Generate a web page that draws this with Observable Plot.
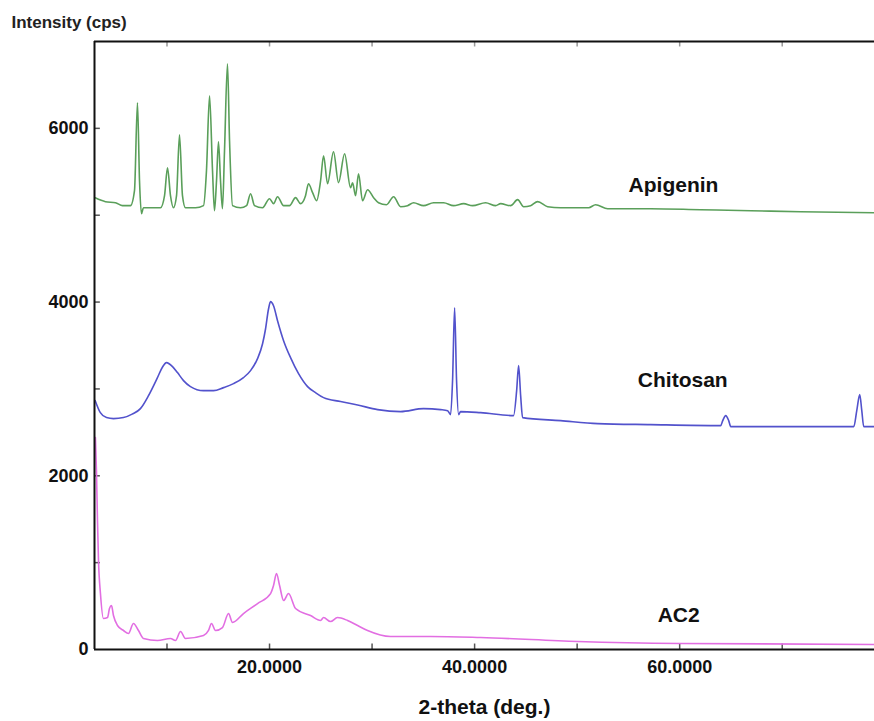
<!DOCTYPE html>
<html>
<head>
<meta charset="utf-8">
<script src="https://cdn.jsdelivr.net/npm/d3@7"></script>
<script src="https://cdn.jsdelivr.net/npm/@observablehq/plot@0.6"></script>
<style>
  html, body { margin: 0; padding: 0; background: #fff; }
  #chart svg { display: block; }
</style>
</head>
<body>
<div id="chart"></div>
<script>
// ---- data (2-theta in degrees, intensity in cps) ----
const apigeninTheta = [3.0, 4.0, 4.98, 5.66, 6.44, 6.83, 7.12, 7.32, 7.51, 7.7, 8.39, 9.37, 9.76, 10.05, 10.34, 10.63, 10.93, 11.22, 11.51, 11.8, 12.78, 13.56, 13.85, 14.15, 14.44, 14.63, 14.83, 15.02, 15.22, 15.41, 15.61, 15.9, 16.1, 16.39, 17.17, 17.76, 18.15, 18.54, 19.32, 20.0, 20.39, 20.78, 21.37, 21.95, 22.54, 23.02, 23.51, 23.8, 24.2, 24.59, 24.98, 25.27, 25.66, 26.24, 26.73, 27.32, 27.9, 28.1, 28.39, 28.68, 29.07, 29.56, 30.15, 30.63, 31.41, 32.1, 32.78, 33.46, 34.05, 35.02, 36.0, 36.98, 37.95, 38.93, 39.8, 41.07, 42.05, 42.54, 43.51, 44.2, 44.78, 45.46, 46.15, 47.12, 48.39, 49.66, 51.12, 51.8, 52.98, 57.17, 62.05, 66.93, 71.8, 79.0];
const apigeninCps   = [5200, 5156, 5144, 5110, 5110, 5282, 6295, 5397, 5017, 5086, 5086, 5086, 5225, 5547, 5225, 5086, 5225, 5926, 5225, 5086, 5086, 5110, 5512, 6375, 5512, 5052, 5397, 5846, 5397, 5075, 5742, 6743, 5857, 5110, 5086, 5110, 5247, 5110, 5086, 5190, 5133, 5213, 5110, 5110, 5202, 5133, 5225, 5363, 5260, 5167, 5397, 5685, 5363, 5731, 5374, 5708, 5317, 5374, 5225, 5478, 5167, 5293, 5202, 5144, 5121, 5213, 5098, 5110, 5144, 5110, 5144, 5144, 5110, 5133, 5110, 5144, 5110, 5133, 5110, 5179, 5098, 5110, 5156, 5098, 5086, 5086, 5086, 5121, 5075, 5075, 5063, 5052, 5040, 5029];

const chitosanTheta = [3.0, 3.5, 4.1, 4.78, 5.76, 6.6, 7.41, 8.2, 9.07, 9.55, 9.95, 10.54, 11.02, 11.61, 12.29, 13.56, 14.54, 15.51, 16.49, 17.46, 18.15, 18.83, 19.32, 19.61, 19.9, 20.1, 20.39, 20.78, 21.37, 22.05, 22.83, 23.71, 24.49, 25.27, 26.93, 28.59, 30.54, 32.78, 35.02, 36.68, 37.37, 37.66, 37.85, 38.05, 38.24, 38.44, 38.63, 40.59, 43.8, 44.1, 44.29, 44.49, 44.68, 48.39, 52.0, 57.17, 64.0, 64.2, 64.49, 64.78, 64.98, 71.8, 76.98, 77.27, 77.56, 77.76, 77.95, 79.0];
const chitosanCps   = [2865, 2727, 2670, 2658, 2670, 2710, 2773, 2923, 3130, 3250, 3303, 3257, 3188, 3096, 3027, 2980, 2980, 3015, 3061, 3130, 3211, 3349, 3520, 3690, 3920, 4005, 3958, 3786, 3556, 3360, 3176, 3027, 2957, 2900, 2855, 2815, 2762, 2739, 2773, 2762, 2750, 2704, 3096, 3935, 3096, 2704, 2739, 2727, 2693, 2980, 3268, 2923, 2670, 2635, 2601, 2589, 2578, 2635, 2693, 2635, 2566, 2566, 2566, 2750, 2934, 2750, 2566, 2566];

const ac2Theta = [3.02, 3.12, 3.22, 3.32, 3.51, 3.8, 4.2, 4.39, 4.59, 4.78, 5.17, 5.76, 6.24, 6.73, 7.22, 7.71, 9.07, 10.34, 10.83, 11.32, 11.8, 13.56, 14.05, 14.34, 14.73, 15.41, 16.0, 16.39, 17.46, 18.83, 20.1, 20.39, 20.68, 20.98, 21.37, 21.85, 22.54, 24.0, 24.98, 25.27, 25.95, 26.63, 27.61, 28.59, 29.56, 31.8, 35.7, 40.59, 50.05, 60.1, 79.0];
const ac2Cps   = [2440, 2060, 1484, 1024, 644, 357, 368, 472, 506, 391, 276, 219, 184, 299, 219, 127, 104, 127, 104, 207, 127, 161, 219, 299, 219, 253, 414, 311, 414, 529, 644, 737, 875, 737, 564, 644, 472, 391, 334, 368, 322, 368, 334, 276, 219, 150, 150, 138, 92, 69, 58];

const seriesNames  = ["Apigenin", "Chitosan", "AC2"];
const seriesColors = ["#5a9f5a", "#5252cc", "#e26ee2"];
const labelTheta   = [59.4, 60.3, 59.9];
const labelCps     = [5340, 3095, 391];

const xDomain = [2.93, 79];
const yDomain = [0, 7000];
const yLabelTicks = [0, 2000, 4000, 6000];
const yMinorTicks = [1000, 2000, 3000, 4000, 5000, 6000];
const xLabelTicks = [20, 40, 60];
const xMinorTicks = [10, 20, 30, 40, 50, 60, 70];

// ---- build tables ----
const thetaBySeries = [apigeninTheta, chitosanTheta, ac2Theta];
const cpsBySeries = [apigeninCps, chitosanCps, ac2Cps];
const rows = [];
seriesNames.forEach((name, i) => {
  thetaBySeries[i].forEach((t, j) => rows.push({series: name, theta: t, cps: cpsBySeries[i][j]}));
});
const labels = seriesNames.map((name, i) => ({series: name, theta: labelTheta[i], cps: labelCps[i]}));

const font = "'Liberation Sans', Arial, sans-serif";
const tickLen = (xDomain[1] - xDomain[0]) * 0.0075;
const tickLenY = (yDomain[1] - yDomain[0]) * 0.009;

const chart = Plot.plot({
  width: 874,
  height: 721,
  marginLeft: 94,
  marginRight: 0,
  marginTop: 41,
  marginBottom: 72,
  style: {fontFamily: font, background: "#fff", color: "#111"},
  x: {domain: xDomain},
  y: {domain: yDomain},
  color: {domain: seriesNames, range: seriesColors},
  marks: [
    // inward ticks
    Plot.ruleY(yMinorTicks, {x1: xDomain[0], x2: xDomain[0] + tickLen, stroke: "#555", strokeWidth: 1.5}),
    Plot.ruleX(xMinorTicks, {y1: yDomain[0], y2: yDomain[0] + tickLenY, stroke: "#555", strokeWidth: 1.5}),
    Plot.ruleX(xMinorTicks, {y1: yDomain[1], y2: yDomain[1] - tickLenY, stroke: "#999", strokeWidth: 1.5}),
    // series
    Plot.line(rows, {x: "theta", y: "cps", z: "series", stroke: "series", strokeWidth: 1.6, curve: "monotone-x", strokeLinejoin: "round"}),
    // series labels
    Plot.text(labels, {x: "theta", y: "cps", text: "series", fontSize: 21, fontWeight: "bold", fill: "#111", textAnchor: "middle"}),
    // frame (left, top, bottom)
    Plot.ruleX([xDomain[0]], {stroke: "#111", strokeWidth: 2}),
    Plot.ruleY([yDomain[0]], {stroke: "#111", strokeWidth: 2}),
    Plot.ruleY([yDomain[1]], {stroke: "#111", strokeWidth: 2}),
    // axes
    Plot.axisY(yLabelTicks, {tickSize: 0, tickPadding: 6, fontSize: 18, fontWeight: "bold", tickFormat: d => String(d), label: null}),
    Plot.axisX(xLabelTicks, {tickSize: 0, tickPadding: 11, fontSize: 18, fontWeight: "bold", tickFormat: d => d.toFixed(4), label: null}),
    // axis titles
    Plot.text(["2-theta (deg.)"], {frameAnchor: "bottom", dy: 58, fontSize: 21, fontWeight: "bold", fill: "#111", lineAnchor: "middle"}),
    Plot.text(["Intensity (cps)"], {frameAnchor: "top-left", dx: -83, dy: -19, fontSize: 17, fontWeight: "bold", fill: "#222", textAnchor: "start", lineAnchor: "middle"})
  ]
});
document.getElementById("chart").appendChild(chart);
</script>
</body>
</html>
